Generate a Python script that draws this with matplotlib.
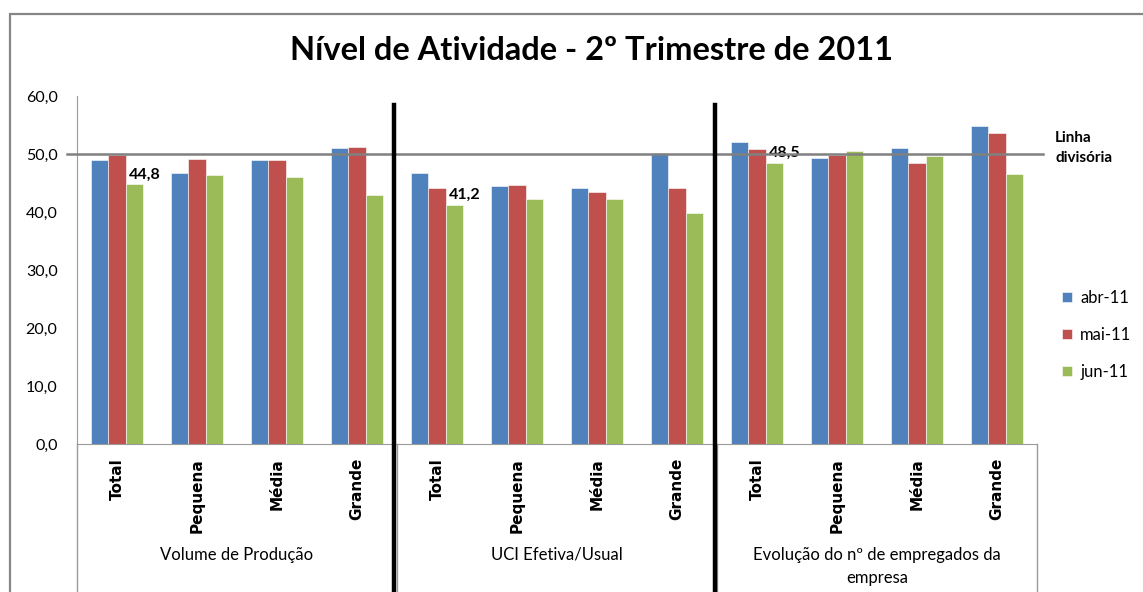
import matplotlib
matplotlib.use("Agg")
import matplotlib.pyplot as plt
import matplotlib.transforms as mtransforms
from matplotlib.patches import Rectangle
from matplotlib.lines import Line2D
import numpy as np

plt.rcParams['font.family'] = ['Lato', 'DejaVu Sans']

categories = ["Total", "Pequena", "Média", "Grande"] * 3
groups = ["Volume de Produção", "UCI Efetiva/Usual", "Evolução do nº de empregados da\nempresa"]
series_names = ["abr-11", "mai-11", "jun-11"]
abr = [49.0, 46.8, 49.0, 51.0, 46.8, 44.5, 44.2, 50.2, 52.1, 49.3, 51.0, 54.8]
mai = [49.8, 49.1, 49.0, 51.2, 44.2, 44.7, 43.5, 44.2, 50.9, 49.8, 48.4, 53.7]
jun = [44.8, 46.3, 46.1, 43.0, 41.2, 42.3, 42.3, 39.9, 48.5, 50.6, 49.6, 46.5]
labeled = {0: "44,8", 4: "41,2", 8: "48,5"}
divider_value = 50.0
colors = ["#4F81BD", "#C0504D", "#9BBB59"]

fig = plt.figure(figsize=(11.43, 5.92), dpi=100)
ax = fig.add_axes([77/1143, 1 - 444/592, 960/1143, 348/592])

x = np.arange(len(categories))
w = 0.22
for i, (vals, c, name) in enumerate(zip([abr, mai, jun], colors, series_names)):
    ax.bar(x + (i - 1) * w, vals, width=w, color=c, label=name, edgecolor="white", linewidth=0.4)

for idx, txt in labeled.items():
    ax.annotate(txt, (x[idx] + w, jun[idx]), xytext=(7, 2), textcoords="offset points",
                ha="center", va="bottom", fontsize=11.5, fontweight="bold", color="black")

ax.set_xlim(-0.5, len(categories) - 0.5)
ax.set_ylim(0, 60)
ax.set_yticks(np.arange(0, 61, 10))
ax.set_yticklabels([f"{v:.1f}".replace(".", ",") for v in np.arange(0, 61, 10)], fontsize=11.5)
ax.set_xticks(x)
ax.set_xticklabels(categories, rotation=90, fontsize=11, fontweight="bold",
                   family="DejaVu Sans", va="top")
ax.tick_params(axis="x", length=0, pad=10)
ax.tick_params(axis="y", length=0, pad=14)
for s in ["top", "right"]:
    ax.spines[s].set_visible(False)
ax.spines["left"].set_color("#9a9a9a")
ax.spines["bottom"].set_color("#9a9a9a")

# divider line
ax.plot([-0.62, 11.57], [divider_value, divider_value], color="#808080", lw=1.8, clip_on=False, zorder=5)
fig.text(1055/1143, 1 - 131/592, "Linha\ndivisória", fontsize=11, fontweight="bold",
         ha="left", va="top", linespacing=1.55)

# category area separators
trans = mtransforms.blended_transform_factory(ax.transData, ax.transAxes)
for xv in [-0.5, 3.5, 7.5, 11.5]:
    ax.add_line(Line2D([xv, xv], [0, -0.45], transform=trans, color="#9a9a9a", lw=1, clip_on=False))

# thick black separators
for xv in [3.46, 7.47]:
    ax.add_line(Line2D([xv, xv], [58.5, -27], color="black", lw=3.2, clip_on=False, zorder=6))

# group labels
for gi, g in enumerate(groups):
    ax.text(gi * 4 + 1.5, -0.295, g, transform=trans, ha="center", va="top", fontsize=12,
            linespacing=1.6)

fig.text(592/1143, 1 - 50/592, "Nível de Atividade - 2º Trimestre de 2011", fontsize=23.5,
         fontweight="bold", ha="center", va="center")

fig.legend(loc="upper left", bbox_to_anchor=(1062/1143, 1 - 290/592), frameon=False,
           fontsize=12, handlelength=0.6, handleheight=0.6, labelspacing=1.25, handletextpad=0.5,
           borderpad=0, borderaxespad=0)

fig.patches.append(Rectangle((10/1143, -0.05), 1.1, 1.05 - 14/592, transform=fig.transFigure,
                             fill=False, edgecolor="#868686", lw=1.6, figure=fig))

fig.savefig("out.png", dpi=100)
